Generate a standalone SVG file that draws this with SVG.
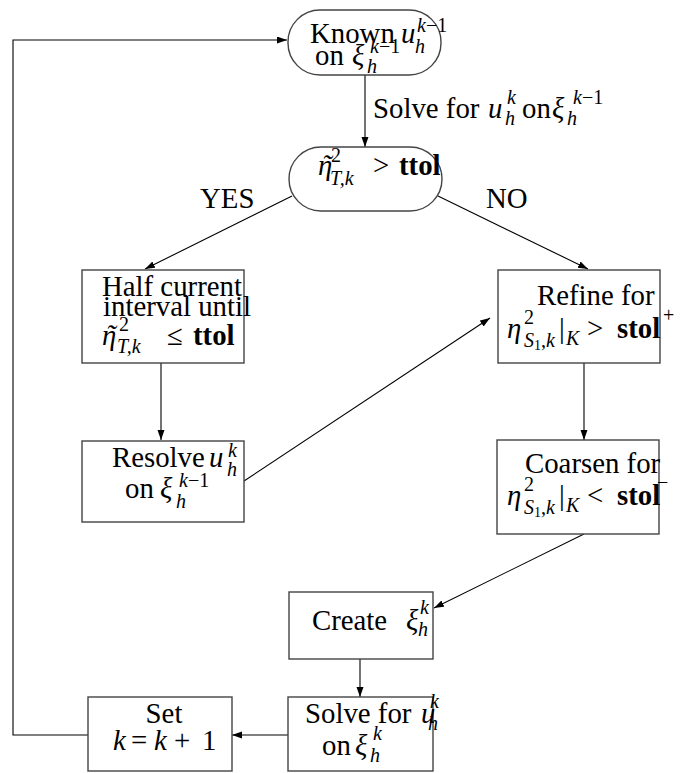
<svg xmlns="http://www.w3.org/2000/svg" width="680" height="773" viewBox="0 0 680 773" font-family="'Liberation Serif', 'DejaVu Serif', serif">
<style>
.box{fill:#fff;stroke:#444;stroke-width:1.4}
.ln{fill:none;stroke:#000;stroke-width:1.1}
text{font-family:'Liberation Serif','DejaVu Serif',serif;font-size:28.8px;fill:#000}
.i{font-style:italic}
.s{font-size:20px}
.ss{font-size:14px}
.b{font-weight:bold}
</style>
<defs>
<marker id="ah" markerUnits="userSpaceOnUse" markerWidth="11" markerHeight="8" refX="10" refY="3.5" orient="auto">
<path d="M0,0 L10,3.5 L0,7 z" fill="#000"/>
</marker>
</defs>
<rect width="680" height="773" fill="#fff"/>
<g id="connectors">
<line class="ln" x1="365" y1="75" x2="365" y2="147" marker-end="url(#ah)"/>
<line class="ln" x1="292" y1="196" x2="145" y2="269" marker-end="url(#ah)"/>
<line class="ln" x1="438" y1="196" x2="588" y2="269" marker-end="url(#ah)"/>
<line class="ln" x1="161" y1="363" x2="161" y2="440" marker-end="url(#ah)"/>
<line class="ln" x1="244" y1="481" x2="490" y2="318" marker-end="url(#ah)"/>
<line class="ln" x1="584" y1="363" x2="584" y2="440" marker-end="url(#ah)"/>
<line class="ln" x1="584" y1="534" x2="434" y2="608" marker-end="url(#ah)"/>
<line class="ln" x1="360" y1="659" x2="360" y2="697" marker-end="url(#ah)"/>
<line class="ln" x1="288" y1="735" x2="232" y2="735" marker-end="url(#ah)"/>
<polyline class="ln" points="88,735 13,735 13,40 287,40" marker-end="url(#ah)"/>
<text x="373" y="118">Solve for</text>
<text class="i" x="488" y="118">u</text>
<text class="s i" x="507" y="104">k</text>
<text class="s i" x="505" y="125">h</text>
<text x="522" y="118">on</text>
<text class="i" x="552" y="118">ξ</text>
<text class="s" x="573" y="104"><tspan class="i">k</tspan>−1</text>
<text class="s i" x="567" y="125">h</text>
<text x="200" y="208">YES</text>
<text x="486" y="208">NO</text>
</g>
<g id="known">
<rect class="box" x="288" y="10" width="153" height="65" rx="32"/>
<text x="310" y="43">Known</text>
<text class="i" x="401" y="43">u</text>
<text class="s" x="417" y="32"><tspan class="i">k</tspan>−1</text>
<text class="s i" x="415" y="53">h</text>
<text x="315" y="65">on</text>
<text class="i" x="352" y="65">ξ</text>
<text class="s" x="370" y="53"><tspan class="i">k</tspan>−1</text>
<text class="s i" x="367" y="73">h</text>
</g>
<g id="decision">
<rect class="box" x="289" y="147" width="153" height="64" rx="32"/>
<text class="i" x="318" y="175">η</text>
<text class="i" x="322" y="175">˜</text>
<text class="s" x="331" y="162">2</text>
<text class="s i" x="330" y="185">T,k</text>
<text x="373" y="175">&gt;</text>
<text class="b" x="399" y="175">ttol</text>
</g>
<g id="half">
<rect class="box" x="82" y="270" width="162" height="93"/>
<text x="102" y="296">Half current</text>
<text x="103" y="316">interval until</text>
<text class="i" x="102" y="345">η</text>
<text class="i" x="106" y="345">˜</text>
<text class="s" x="119" y="331">2</text>
<text class="s i" x="117" y="353">T,k</text>
<text x="167" y="345">≤</text>
<text class="b" x="193" y="345">ttol</text>
</g>
<g id="refine">
<rect class="box" x="498" y="270" width="162" height="93"/>
<text x="537" y="305">Refine for</text>
<text class="i" x="507" y="338">η</text>
<text class="s" x="524" y="324">2</text>
<text class="s" x="524" y="347"><tspan class="i">S</tspan><tspan class="ss" dy="3">1</tspan><tspan dy="-3">,</tspan><tspan class="i">k</tspan></text>
<text x="559" y="338">|</text>
<text class="s i" x="566" y="345">K</text>
<text x="587" y="338">&gt;</text>
<text class="b" x="617" y="338">stol</text>
<text class="s" x="663" y="322">+</text>
</g>
<g id="resolve">
<rect class="box" x="82" y="441" width="162" height="81"/>
<text x="112" y="467">Resolve</text>
<text class="i" x="209" y="467">u</text>
<text class="s i" x="228" y="457">k</text>
<text class="s i" x="227" y="476">h</text>
<text x="125" y="498">on</text>
<text class="i" x="160" y="498">ξ</text>
<text class="s" x="179" y="487"><tspan class="i">k</tspan>−1</text>
<text class="s i" x="176" y="508">h</text>
</g>
<g id="coarsen">
<rect class="box" x="497" y="440" width="162" height="94"/>
<text x="525" y="473">Coarsen for</text>
<text class="i" x="507" y="505">η</text>
<text class="s" x="524" y="491">2</text>
<text class="s" x="524" y="514"><tspan class="i">S</tspan><tspan class="ss" dy="3">1</tspan><tspan dy="-3">,</tspan><tspan class="i">k</tspan></text>
<text x="559" y="505">|</text>
<text class="s i" x="566" y="512">K</text>
<text x="587" y="505">&lt;</text>
<text class="b" x="617" y="505">stol</text>
<text class="s" x="657" y="489">−</text>
</g>
<g id="create">
<rect class="box" x="289" y="592" width="144" height="67"/>
<text x="312" y="630">Create</text>
<text class="i" x="406" y="630">ξ</text>
<text class="s i" x="420" y="614">k</text>
<text class="s i" x="418" y="636">h</text>
</g>
<g id="set">
<rect class="box" x="88" y="697" width="144" height="74"/>
<text x="164" y="723" text-anchor="middle">Set</text>
<text class="i" x="113" y="750">k</text>
<text x="131" y="750">=</text>
<text class="i" x="154" y="750">k</text>
<text x="174" y="750">+</text>
<text x="202" y="750">1</text>
</g>
<g id="solve">
<rect class="box" x="288" y="697" width="145" height="74"/>
<text x="305" y="723">Solve for</text>
<text class="i" x="421" y="723">u</text>
<text class="s i" x="430" y="708">k</text>
<text class="s i" x="428" y="730">h</text>
<text x="322" y="755">on</text>
<text class="i" x="355" y="755">ξ</text>
<text class="s i" x="373" y="740">k</text>
<text class="s i" x="370" y="762">h</text>
</g>
</svg>
